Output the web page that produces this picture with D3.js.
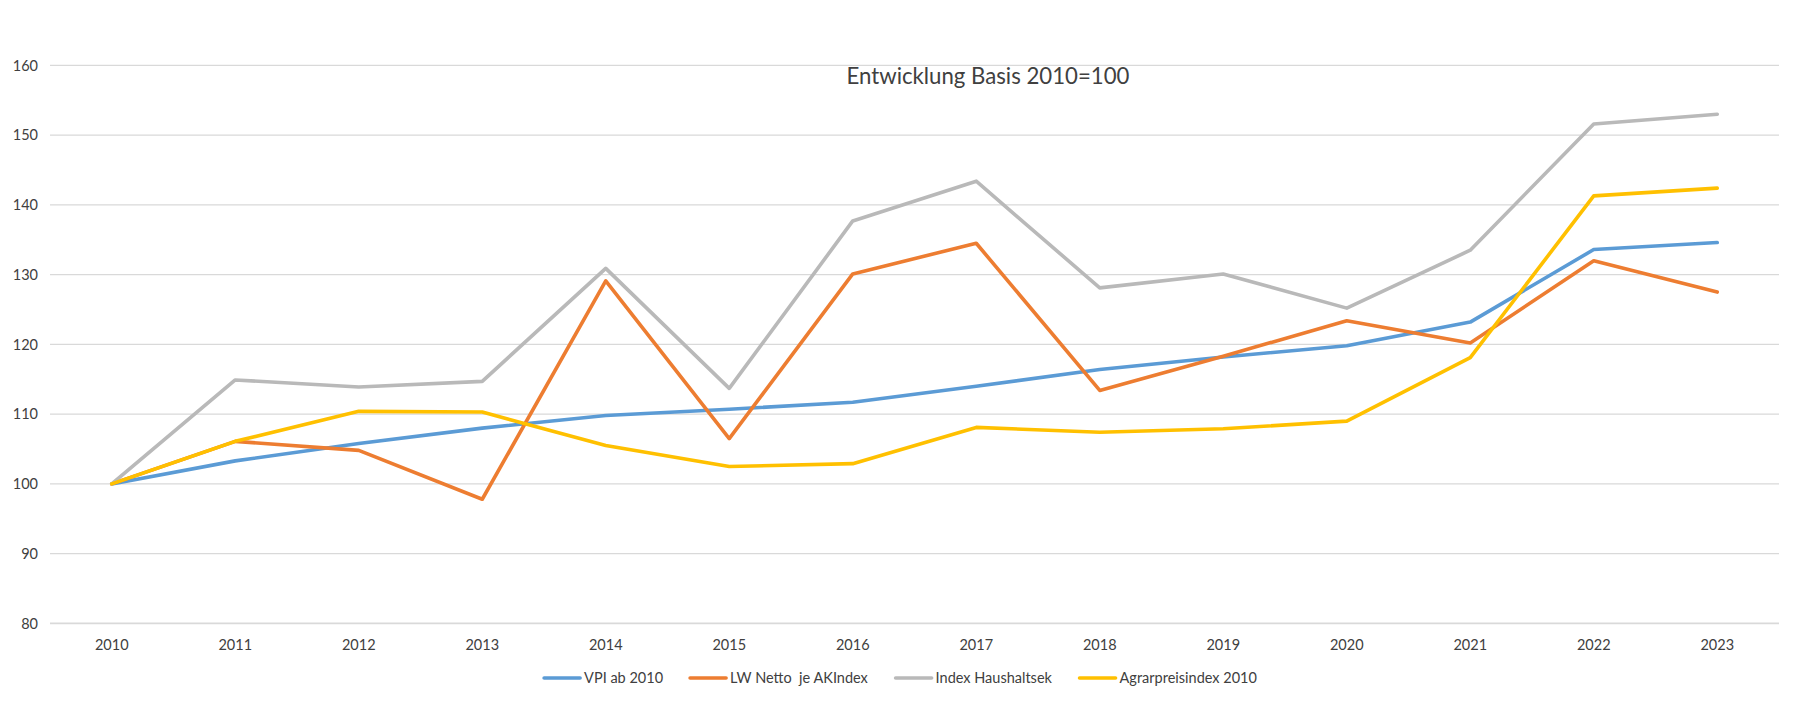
<!DOCTYPE html>
<html>
<head>
<meta charset="utf-8">
<script src="https://cdn.jsdelivr.net/npm/d3@7"></script>
<style>
  html, body { margin: 0; padding: 0; background: #ffffff; }
  svg { display: block; }
  text { font-family: Lato, "Noto Sans", sans-serif; fill: #404040; }
</style>
</head>
<body>
<svg id="chart" width="1800" height="705"></svg>
<script>
const years = ["2010","2011","2012","2013","2014","2015","2016","2017","2018","2019","2020","2021","2022","2023"];
const vpi = [100, 103.3, 105.8, 108.0, 109.8, 110.7, 111.7, 114.0, 116.4, 118.2, 119.8, 123.2, 133.6, 134.6];
const lwNetto = [100, 106.1, 104.8, 97.8, 129.1, 106.5, 130.1, 134.5, 113.4, 118.3, 123.4, 120.2, 132.0, 127.5];
const haushalt = [100, 114.9, 113.9, 114.7, 130.9, 113.7, 137.7, 143.4, 128.1, 130.1, 125.2, 133.5, 151.6, 153.0];
const agrar = [100, 106.1, 110.4, 110.3, 105.5, 102.5, 102.9, 108.1, 107.4, 107.9, 109.0, 118.1, 141.3, 142.4];
const seriesNames = ["VPI ab 2010", "LW Netto  je AKIndex", "Index Haushaltsek", "Agrarpreisindex 2010"];
const seriesColors = ["#5B9BD5", "#ED7D31", "#B9B9B9", "#FFC000"];
const yTicks = [80, 90, 100, 110, 120, 130, 140, 150, 160];
const title = "Entwicklung Basis 2010=100";

const seriesData = [vpi, lwNetto, haushalt, agrar];

const svg = d3.select("#chart");
const plotLeft = 50, plotRight = 1779, plotTop = 65.4, plotBottom = 623.4;

const x = d3.scaleBand().domain(years).range([plotLeft, plotRight]);
const y = d3.scaleLinear().domain([80, 160]).range([plotBottom, plotTop]);
const cx = d => x(d) + x.bandwidth() / 2;

// gridlines
svg.append("g")
  .selectAll("line")
  .data(yTicks)
  .join("line")
  .attr("x1", plotLeft).attr("x2", plotRight)
  .attr("y1", d => y(d)).attr("y2", d => y(d))
  .attr("stroke", "#D9D9D9")
  .attr("stroke-width", d => d === 80 ? 1.6 : 1.1);

// y axis labels
const yAxis = svg.append("g")
  .attr("transform", `translate(${plotLeft},0)`)
  .call(d3.axisLeft(y).tickValues(yTicks).tickSize(0).tickPadding(12).tickFormat(d3.format("d")));
yAxis.select(".domain").remove();
yAxis.selectAll("text").attr("font-size", 14.5).attr("font-family", "Lato, sans-serif").attr("fill", "#404040");

// x axis labels
const xAxis = svg.append("g")
  .attr("transform", `translate(0,${plotBottom})`)
  .call(d3.axisBottom(x).tickSize(0).tickPadding(16));
xAxis.select(".domain").remove();
xAxis.selectAll("text").attr("font-size", 14.5).attr("font-family", "Lato, sans-serif").attr("fill", "#404040");

// title
svg.append("text")
  .attr("x", 988).attr("y", 84)
  .attr("text-anchor", "middle")
  .attr("font-size", 22.2)
  .attr("fill", "#333333")
  .text(title);

// lines
const line = d3.line()
  .x((d, i) => cx(years[i]))
  .y(d => y(d));

svg.append("g")
  .selectAll("path")
  .data(seriesData)
  .join("path")
  .attr("d", d => line(d))
  .attr("fill", "none")
  .attr("stroke", (d, i) => seriesColors[i])
  .attr("stroke-width", 3.6)
  .attr("stroke-linejoin", "round")
  .attr("stroke-linecap", "round");

// legend
const legendY = 678;
const swatch = 36, swGap = 4, itemGap = 27;
const lg = svg.append("g");
const items = lg.selectAll("g").data(seriesNames).join("g");
items.append("line")
  .attr("x1", 0).attr("x2", swatch)
  .attr("y1", 0).attr("y2", 0)
  .attr("stroke", (d, i) => seriesColors[i])
  .attr("stroke-width", 3.6)
  .attr("stroke-linecap", "round");
items.append("text")
  .attr("x", swatch + swGap)
  .attr("y", 0)
  .attr("dy", "0.35em")
  .attr("font-size", 14.5)
  .attr("fill", "#404040")
  .style("white-space", "pre")
  .attr("xml:space", "preserve")
  .text(d => d);
let widths = [];
items.each(function() { widths.push(this.getBBox().width); });
const total = d3.sum(widths) + itemGap * (widths.length - 1);
let pos = 900.5 - total / 2;
items.attr("transform", (d, i) => {
  const t = `translate(${pos},${legendY})`;
  pos += widths[i] + itemGap;
  return t;
});
</script>
</body>
</html>
